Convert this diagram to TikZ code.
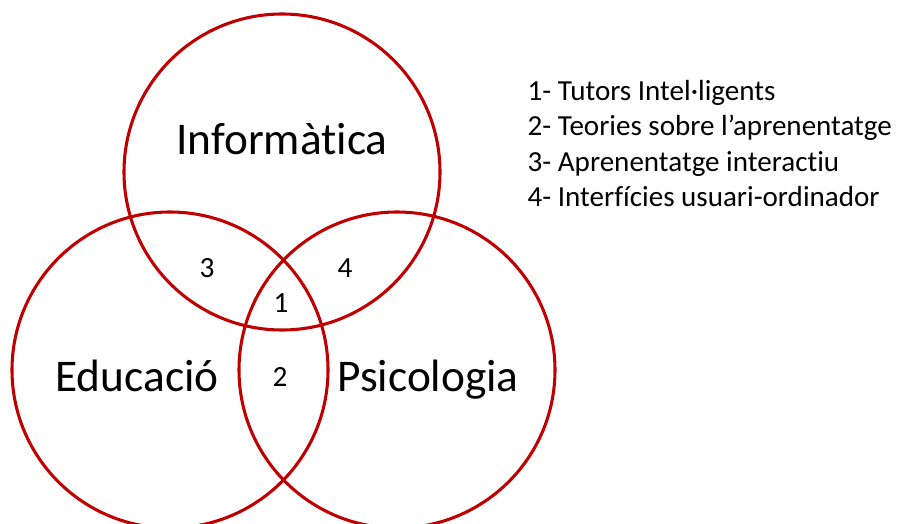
\documentclass[tikz,border=0pt]{standalone}
\usepackage{fontspec}
\setmainfont[Ligatures=NoCommon]{Carlito}
\usepackage{tikz}

\definecolor{vennred}{RGB}{192,0,0}

\begin{document}
\begin{tikzpicture}[x=0.75pt,y=-0.75pt]

\useasboundingbox (0,0) rectangle (897,524);

\tikzset{
  area/.style={circle, draw=vennred, line width=2.3pt, minimum size=237pt, inner sep=0pt},
  big/.style={anchor=base, font=\fontsize{34}{40}\selectfont},
  num/.style={anchor=base, font=\fontsize{22}{26}\selectfont},
  item/.style={anchor=base west, font=\fontsize{21.8}{26}\selectfont}
}

% the three fields
\node[area] (info) at (282,172) {};
\node[area] (edu) at (170,370) {};
\node[area] (psi) at (397,370) {};

% field names
\node[big] (infolabel) at (282,155) {Informàtica};
\node[big] (edulabel) at (137,392) {Educació};
\node[big] (psilabel) at (428,392) {Psicologia};

% overlaps
\node[num] (n1) at (281,313) {1};
\node[num] (n2) at (280,387) {2};
\node[num] (n3) at (207,277) {3};
\node[num] (n4) at (345,277) {4};

% legend
\node[item] (l1) at (523,101) {1- Tutors Intel·ligents};
\node[item] (l2) at (523,136) {2- Teories sobre l’aprenentatge};
\node[item] (l3) at (523,172) {3- Aprenentatge interactiu};
\node[item] (l4) at (523,207) {4- Interfícies usuari-ordinador};

\end{tikzpicture}
\end{document}
